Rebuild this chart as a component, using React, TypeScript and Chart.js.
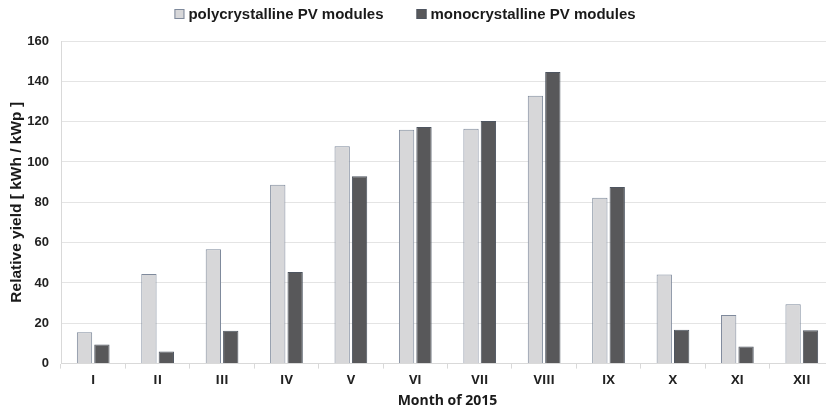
import React, { useEffect, useRef } from "react";
import { Chart, registerables } from "chart.js";

Chart.register(...registerables);

const months = ["I", "II", "III", "IV", "V", "VI", "VII", "VIII", "IX", "X", "XI", "XII"];
const seriesNames = ["polycrystalline PV modules", "monocrystalline PV modules"];
const polyValues = [15.5, 44.5, 56.7, 88.7, 107.8, 116, 116.5, 132.8, 82.3, 44.2, 24.1, 29.4];
const monoValues = [9.5, 6, 16.3, 45.4, 92.9, 117.3, 120.3, 144.6, 87.6, 16.8, 8.5, 16.5];
const yTicks = [0, 20, 40, 60, 80, 100, 120, 140, 160];

const CANVAS_W = 834;

const legendPlugin = {
  id: "topLegend",
  afterDraw(chart: any) {
    const ctx = chart.ctx as CanvasRenderingContext2D;
    ctx.save();
    ctx.font = "bold 15px 'Liberation Sans'";
    const box = 10;
    const gapAfterBox = 4;
    const gapBetween = 33;
    const widths = chart.data.datasets.map((d: any) => ctx.measureText(d.label).width);
    const total = widths.reduce((a: number, w: number) => a + box + gapAfterBox + w, 0) + gapBetween * (widths.length - 1);
    let x = chart.width / 2 - 12 - total / 2;
    const y = 14;
    chart.data.datasets.forEach((d: any, i: number) => {
      ctx.fillStyle = d.backgroundColor;
      ctx.fillRect(x, y - box / 2, box, box);
      ctx.strokeStyle = d.borderColor;
      ctx.lineWidth = 1;
      ctx.strokeRect(x + 0.5, y - box / 2 + 0.5, box - 1, box - 1);
      x += box + gapAfterBox;
      ctx.fillStyle = "#1a1a1a";
      ctx.textBaseline = "middle";
      ctx.textAlign = "left";
      ctx.fillText(d.label, x, y + 1);
      x += widths[i] + gapBetween;
    });
    ctx.restore();
  },
};

export default function App() {
  const ref = useRef<HTMLCanvasElement | null>(null);
  useEffect(() => {
    document.body.style.margin = "0";
    const ctx = ref.current!.getContext("2d")!;
    const chart = new Chart(ctx, {
      type: "bar",
      data: {
        labels: months,
        datasets: [
          {
            label: seriesNames[0],
            data: polyValues,
            backgroundColor: "#d7d7d9",
            borderColor: "#7f8a9c",
            borderWidth: 1,
            categoryPercentage: 0.54,
            barPercentage: 0.88,
          },
          {
            label: seriesNames[1],
            data: monoValues,
            backgroundColor: "#58585a",
            borderColor: "#4e5560",
            borderWidth: 1,
            categoryPercentage: 0.54,
            barPercentage: 0.88,
          },
        ],
      },
      plugins: [legendPlugin],
      options: {
        animation: false,
        responsive: false,
        maintainAspectRatio: false,
        layout: { padding: { top: 41, right: 0, bottom: 0, left: 4 } },
        plugins: {
          legend: { display: false },
          tooltip: { enabled: false },
        },
        scales: {
          x: {
            offset: true,
            grid: {
              display: true,
              drawOnChartArea: false,
              drawTicks: true,
              tickLength: 5,
              color: "#d9d9d9",
              offset: true,
            },
            border: { display: true, color: "#d9d9d9" },
            ticks: {
              color: "#222",
              padding: 4,
              font: { family: "Open Sans", weight: "bold", size: 13 },
            },
            title: {
              display: true,
              text: "Month of 2015",
              color: "#1a1a1a",
              padding: { top: 0, bottom: 0 },
              font: { family: "Open Sans", weight: "bold", size: 14 },
            },
          },
          y: {
            min: 0,
            max: 160,
            afterBuildTicks: (axis: any) => {
              axis.ticks = yTicks.map((v) => ({ value: v }));
            },
            afterFit: (axis: any) => {
              axis.width = 57;
            },
            grid: { color: "#e4e4e4", drawTicks: false },
            border: { display: true, color: "#d9d9d9" },
            ticks: {
              color: "#222",
              padding: 12,
              font: { family: "Liberation Sans", weight: "bold", size: 13 },
            },
            title: {
              display: true,
              text: "Relative yield [ kWh / kWp ]",
              color: "#1a1a1a",
              padding: { top: 3, bottom: 0 },
              font: { family: "Liberation Sans", weight: "bold", size: 15.5 },
            },
          },
        },
      },
    });
    return () => chart.destroy();
  }, []);
  return (
    <div style={{ position: "absolute", left: 0, top: 0, width: 826, height: 409, overflow: "hidden" }}>
      <canvas ref={ref} width={CANVAS_W} height={409} style={{ width: CANVAS_W, height: 409, display: "block" }} />
    </div>
  );
}
